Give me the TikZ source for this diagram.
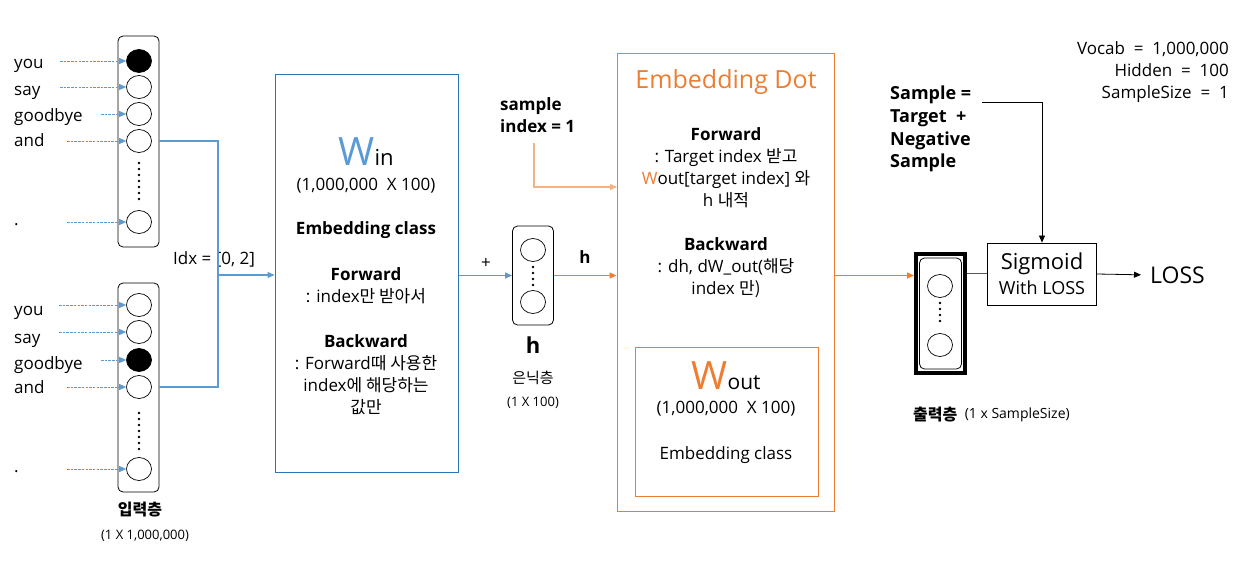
\documentclass[tikz,border=0pt]{standalone}
\usepackage{fontspec}
\setmainfont{Open Sans}
\newfontfamily\kr{Noto Sans CJK KR}
\usetikzlibrary{positioning}
\usetikzlibrary{arrows.meta}
\usetikzlibrary{shapes.geometric}

\definecolor{inblue}{HTML}{5B9BD5}
\definecolor{boxblue}{HTML}{2E75B6}
\definecolor{outorange}{HTML}{ED7D31}
\definecolor{paleorange}{HTML}{F4B183}
\definecolor{wiregray}{HTML}{595959}

\tikzset{every picture/.style={/utils/exec={\fontsize{17}{22}\selectfont}}}
\tikzset{
  >={Triangle[length=7pt,width=6pt]},
  word/.style={anchor=west, inner sep=0pt, text height=12pt, text depth=4pt},
  txt/.style={inner sep=0pt, align=center},
  unit/.style={draw, ellipse, minimum width=25pt, minimum height=23pt, inner sep=0pt, line width=.7pt},
  layer/.style={draw, rounded corners=5pt, inner sep=0pt, line width=.8pt},
  feed/.style={draw=inblue, dash pattern=on 2.5pt off 1.2pt, line width=.9pt, ->},
  bluewire/.style={draw=inblue, line width=1.3pt},
  orangewire/.style={draw=outorange, line width=1.3pt},
  unitdots/.style={line width=2.6pt, line cap=round, dash pattern=on 0pt off 6pt},
}

\begin{document}
\begin{tikzpicture}[x=1pt, y=-1pt]
  \useasboundingbox (0,0) rectangle (1258,577);

  % input layers
  \node [layer, minimum width=41pt, minimum height=211pt] (tcol) at (138.5,141.5) {};
  \node [layer, minimum width=41pt, minimum height=209pt] (bcol) at (138.5,387.5) {};

  \foreach \w/\y/\ly/\x/\f/\t in {you/61/65/60/black/you, say/87/92/60/white/say,
    goodbye/114/118/101/white/goodbye, and/141/143/67/white/and, end/222/221.5/67/white/.}
  {
    \node [unit, fill=\f] (t\w) at (139,\y) {};
    \node [word] (tl\w) at (14,\ly) {\t};
    \coordinate (tf\w) at (\x,\y);
    \draw [feed] (tf\w) -- (t\w);
  }
  \foreach \w/\y/\ly/\x/\f/\t in {you/305/312/59/white/you, say/332/339/59/white/say,
    goodbye/360/365/101/black/goodbye, and/387/389/67/white/and, end/469/468/67/white/.}
  {
    \node [unit, fill=\f] (b\w) at (139,\y) {};
    \node [word] (bl\w) at (14,\ly) {\t};
    \coordinate (bf\w) at (\x,\y);
    \draw [feed] (bf\w) -- (b\w);
  }
  \draw [unitdots] (139,163) -- (139,200);
  \draw [unitdots] (139,413) -- (139,450);

  \node [font=\bfseries\fontsize{16}{16}\selectfont] (inname) at (140,510) {\kr{입력층}};
  \node [font=\fontsize{13}{13}\selectfont] (insize) at (145,536) {(1 X 1,000,000)};

  \coordinate (idx) at (218,275);
  \node [word] (idxlabel) at (173,261) {Idx = [0, 2]};

  % W_in
  \node [draw=boxblue, line width=1pt, minimum width=183pt, minimum height=397pt] (win) at (366.5,273.5) {};
  \node [anchor=base, inner sep=0pt] (wintitle) at (366,166)
    {{\fontsize{39}{39}\selectfont\color{inblue}W}{\fontsize{22}{22}\selectfont in}};
  \node [txt] (winsize) at (366,186) {(1,000,000\ \ X 100)};
  \node [txt, font=\bfseries] (winclass) at (366,230) {Embedding class};
  \node [txt] (winfwd) at (366,286) {\textbf{Forward}\\: index\kr{만 받아서}};
  \node [txt] (winbwd) at (366,375) {\textbf{Backward}\\: Forward\kr{때 사용한}\\index\kr{에 해당하는}\\\kr{값만}};

  \draw [bluewire] (tcol.east |- tand) -| (idx);
  \draw [bluewire] (bcol.east |- band) -| (idx);
  \draw [bluewire, ->] (idx) -- (win.west |- idx);

  % hidden layer
  \node [layer, minimum width=41pt, minimum height=99pt] (hcol) at (533,275.5) {};
  \node [unit] (h1) at (533,250) {};
  \node [unit] (h2) at (533,302) {};
  \draw [unitdots] (533,267) -- (533,286);
  \node (plus) at (486,263) {+};
  \draw [bluewire, ->] (win.east |- hcol) -- (hcol.west);
  \node [font=\bfseries\fontsize{22}{22}\selectfont] (hname) at (533,345) {h};
  \node [font=\fontsize{15}{15}\selectfont] (hkr) at (533,378) {\kr{은닉층}};
  \node [font=\fontsize{13}{13}\selectfont] (hsize) at (533,403) {(1 X 100)};

  % Embedding Dot
  \node [draw=outorange, line width=1pt, minimum width=217pt, minimum height=457pt] (edot) at (725.5,282.5) {};
  \node [text=outorange, font=\fontsize{25}{25}\selectfont] (edottitle) at (726,82) {Embedding Dot};
  \node [txt] (edotfwd) at (726,168)
    {\textbf{Forward}\\: Target index \kr{받고}\\{\color{outorange}W}out[target index] \kr{와}\\h \kr{내적}};
  \node [txt] (edotbwd) at (726,268) {\textbf{Backward}\\: dh, dW\_out(\kr{해당}\\index \kr{만})};

  \node [draw=outorange, line width=1pt, minimum width=183pt, minimum height=149pt] (wout) at (726.5,421.5) {};
  \node [anchor=base, inner sep=0pt] (wouttitle) at (726,389)
    {{\fontsize{39}{39}\selectfont\color{outorange}W}{\fontsize{21}{21}\selectfont out}};
  \node [txt] (woutsize) at (726,409) {(1,000,000\ \ X 100)};
  \node [txt] (woutclass) at (726,455) {Embedding class};

  \node [txt, anchor=west, align=left, font=\bfseries] (sample) at (500,115.5) {sample\\index = 1};
  \coordinate (smp) at (534,143);
  \coordinate (smpin) at (617,187);
  \draw [draw=paleorange, line width=1.3pt, ->] (smp) |- (smpin);

  \node [font=\bfseries] (hflow) at (585,257) {h};
  \draw [orangewire, ->] (hcol.east) -- (edot.west |- hcol);

  % output layer
  \node [draw, line width=4pt, minimum width=49pt, minimum height=119pt, inner sep=0pt] (ocol) at (940.5,313.5) {};
  \node [layer, minimum width=42pt, minimum height=111pt] (ocolin) at (940.5,313.5) {};
  \node [unit] (o1) at (940,286) {};
  \node [unit] (o2) at (940,345) {};
  \draw [unitdots] (940,303) -- (940,322);
  \draw [orangewire, ->] (edot.east |- hcol) -- (ocol.west |- hcol);

  \node [anchor=west, inner sep=0pt, font=\bfseries\fontsize{16}{16}\selectfont] (outname) at (913,415) {\kr{출력층}};
  \node [right=7pt of outname, inner sep=0pt, font=\fontsize{14}{14}\selectfont] (outsize) {(1 x SampleSize)};

  % loss
  \node [draw, line width=.8pt, minimum width=109pt, minimum height=62pt] (sig) at (1042,274) {};
  \node [font=\fontsize{22}{22}\selectfont] (sigtop) at (1042,264) {Sigmoid};
  \node [font=\fontsize{18}{18}\selectfont] (sigbot) at (1042,288) {With LOSS};
  \draw [draw=wiregray, line width=1pt] (ocol.east |- sig) -- (sig.west);

  \node [anchor=west, inner sep=0pt, font=\fontsize{23}{23}\selectfont] (loss) at (1150,275) {LOSS};
  \draw [line width=.8pt, ->, shorten >=9pt] (sig.east) -- (loss.west);

  \node [txt, anchor=west, align=left, font=\bfseries\fontsize{18}{22.7}\selectfont] (negsample) at (890,129)
    {Sample =\\Target\ \ +\\Negative\\Sample};
  \coordinate (negend) at (982,102);
  \draw [line width=.8pt, ->] (negend) -| (sig.north);

  \node [txt, anchor=east, align=right] (params) at (1229,72)
    {Vocab \ = \ 1,000,000\\Hidden \ = \ 100\\SampleSize \ = \ 1};

\end{tikzpicture}
\end{document}
